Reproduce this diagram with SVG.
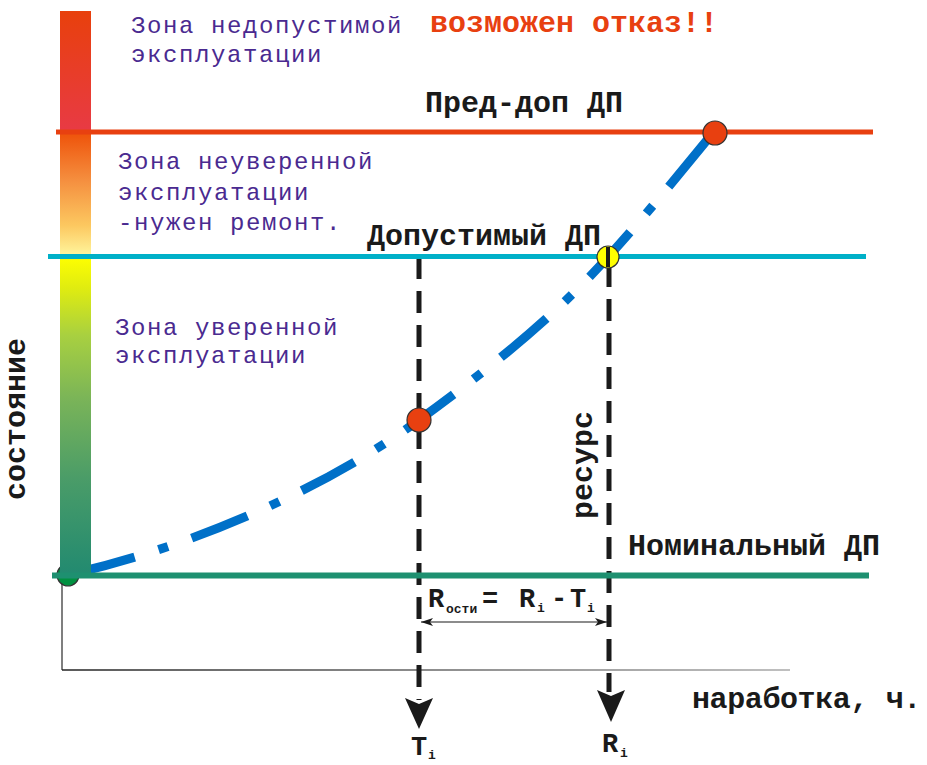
<svg xmlns="http://www.w3.org/2000/svg" width="927" height="765" viewBox="0 0 927 765">
<defs>
<style>
.zone{font-family:"Liberation Mono","DejaVu Sans Mono",monospace;font-size:24px;letter-spacing:1.6px;fill:#4a2a90}
.lbl{font-family:"Liberation Mono","DejaVu Sans Mono",monospace;font-size:30px;font-weight:bold;fill:#1a1a1a}
.frm{font-family:"Liberation Mono","DejaVu Sans Mono",monospace;font-size:27px;font-weight:bold;fill:#1a1a1a}
.sub{font-family:"Liberation Mono","DejaVu Sans Mono",monospace;font-size:13px;font-weight:bold;fill:#1a1a1a}
.warn{font-family:"Liberation Mono","DejaVu Sans Mono",monospace;font-size:30px;font-weight:bold;fill:#e84010}
.vdash{stroke:#1a1a1a;stroke-width:5;stroke-dasharray:22 12;fill:none}
.arrowhead{fill:#1a1a1a}
.pt{stroke:#333;stroke-width:1.2}
</style>
<linearGradient id="g1" x1="0" y1="0" x2="0" y2="1">
<stop offset="0" stop-color="#e8400c"/>
<stop offset="1" stop-color="#e83a45"/>
</linearGradient>
<linearGradient id="g2" x1="0" y1="0" x2="0" y2="1">
<stop offset="0" stop-color="#ee5008"/>
<stop offset="0.4" stop-color="#f59040"/>
<stop offset="0.75" stop-color="#fcc860"/>
<stop offset="1" stop-color="#fff8a0"/>
</linearGradient>
<linearGradient id="g3" x1="0" y1="0" x2="0" y2="1">
<stop offset="0" stop-color="#ffff00"/>
<stop offset="0.1" stop-color="#e0ec10"/>
<stop offset="0.25" stop-color="#a8d040"/>
<stop offset="0.45" stop-color="#7ab458"/>
<stop offset="0.7" stop-color="#4a9c68"/>
<stop offset="1" stop-color="#228a70"/>
</linearGradient>
<linearGradient id="gax" gradientUnits="userSpaceOnUse" x1="62" y1="0" x2="790" y2="0">
<stop offset="0" stop-color="#222"/>
<stop offset="1" stop-color="#aaa"/>
</linearGradient>
<marker id="ah" viewBox="0 0 12 8" refX="12" refY="4" markerWidth="12" markerHeight="8" markerUnits="userSpaceOnUse" orient="auto-start-reverse">
<path d="M0,0 L12,4 L0,8 L3,4 Z" fill="#1a1a1a"/>
</marker>
</defs>

<g id="axes">
<path d="M62,575 V670" stroke="#555" stroke-width="1.5" fill="none"/>
<path d="M62,670 H790" stroke="url(#gax)" stroke-width="1.5" fill="none"/>
</g>

<g id="connectors">
<path id="curve" d="M67,575 C200,545 330,485 419,420 S560,310 608,257 S690,160 722,122" stroke="#0070c8" stroke-width="9" fill="none" stroke-dasharray="60 25 10 25" stroke-dashoffset="-10"/>
<path class="vdash" d="M419,257 V700"/>
<path class="vdash" d="M609,265 V692"/>
<polygon class="arrowhead" points="405,698 419,704 433,698 419,729"/>
<polygon class="arrowhead" points="597,690 611,696 625,690 611,722"/>
<path d="M421,622 H607" stroke="#1a1a1a" stroke-width="1.2" fill="none" marker-start="url(#ah)" marker-end="url(#ah)"/>
</g>

<g id="node-start">
<circle class="pt" cx="68" cy="575" r="11" fill="#009040"/>
</g>

<g id="scale-bar">
<rect x="60" y="11" width="31" height="121" fill="url(#g1)"/>
<rect x="60" y="131" width="31" height="126" fill="url(#g2)"/>
<rect x="60" y="256" width="31" height="318" fill="url(#g3)"/>
</g>

<g id="level-lines">
<path d="M56,132 H873" stroke="#e84010" stroke-width="5"/>
<path d="M48,256.5 H866" stroke="#00b0c8" stroke-width="5"/>
<path d="M52,575.5 H869" stroke="#1e9070" stroke-width="6"/>
</g>

<g id="node-fail">
<circle class="pt" cx="715" cy="133" r="12" fill="#e84010"/>
</g>
<g id="node-current">
<circle class="pt" cx="419" cy="420" r="12" fill="#e84010"/>
</g>
<g id="node-limit">
<circle class="pt" cx="608" cy="257" r="11" fill="#ffff00"/>
<rect x="606" y="247" width="4" height="20" fill="#1a1a1a"/>
</g>

<g id="zone-texts">
<text class="zone" x="131" y="33">Зона недопустимой</text>
<text class="zone" x="131" y="62">эксплуатации</text>
<text class="warn" x="430" y="32">возможен отказ!!</text>
<text class="zone" x="118" y="169">Зона неуверенной</text>
<text class="zone" x="118" y="200">эксплуатации</text>
<text class="zone" x="118" y="230">-нужен ремонт.</text>
<text class="zone" x="115" y="335">Зона уверенной</text>
<text class="zone" x="115" y="363">эксплуатации</text>
</g>

<g id="labels">
<text class="lbl" x="425" y="112">Пред-доп ДП</text>
<text class="lbl" x="367" y="245">Допустимый ДП</text>
<text class="lbl" x="628" y="555">Номинальный ДП</text>
<text class="lbl" x="692" y="708" letter-spacing="-0.4">наработка, ч.</text>
<text class="lbl" transform="translate(25,500) rotate(-90)">состояние</text>
<text class="lbl" transform="translate(592,519) rotate(-90)">ресурс</text>
</g>

<g id="formula">
<text class="frm" x="428" y="607">R</text>
<text class="sub" x="446" y="613">ости</text>
<text class="frm" x="482" y="607">=</text>
<text class="frm" x="519" y="607">R</text>
<text class="sub" x="537" y="612">i</text>
<text class="frm" x="551" y="607">-</text>
<text class="frm" x="570" y="607">T</text>
<text class="sub" x="587" y="612">i</text>
</g>

<g id="axis-labels">
<text class="frm" x="411" y="755">T</text>
<text class="sub" x="428" y="759">i</text>
<text class="frm" x="602" y="752">R</text>
<text class="sub" x="620" y="757">i</text>
</g>
</svg>
